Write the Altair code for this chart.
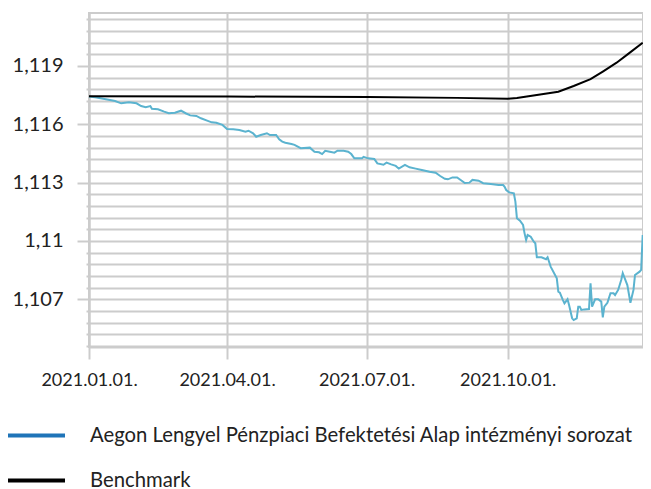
import altair as alt
import pandas as pd

# ---- data ----
START = "2021-01-01"
fund_name = "Aegon Lengyel Pénzpiaci Befektetési Alap intézményi sorozat"
bench_name = "Benchmark"

fund_day = [0,4,11,17,21,26,31,34,37,40,
            41,45,49,52,56,60,63,66,70,73,
            77,80,83,87,90,94,98,102,104,107,
            109,112,116,118,122,124,126,128,132,134,
            138,144,147,150,152,154,157,160,162,166,
            169,171,173,178,179,182,186,188,192,194,
            197,200,202,206,209,213,217,222,226,229,
            232,234,237,240,243,245,248,250,254,257,
            262,267,270,271,272,274,277,278,279,281,
            283,284,285,286,288,290,291,292,295,298,
            299,301,305,306,307,309,310,312,313,315,
            316,318,319,320,321,323,326,327,328,330,
            332,334,335,336,338,340,342,343,345,347,
            348,351,353,355,356,359,360,361]
fund_val = [1.11743,1.11739,1.11729,1.11720,1.11708,1.11713,1.11708,1.11694,1.11688,1.11694,
            1.11680,1.11677,1.11665,1.11657,1.11660,1.11670,1.11657,1.11646,1.11643,1.11631,
            1.11619,1.11610,1.11608,1.11597,1.11576,1.11574,1.11571,1.11562,1.11567,1.11554,
            1.11536,1.11545,1.11554,1.11545,1.11545,1.11523,1.11511,1.11505,1.11499,1.11494,
            1.11477,1.11480,1.11459,1.11456,1.11447,1.11464,1.11459,1.11454,1.11464,1.11464,
            1.11459,1.11447,1.11425,1.11425,1.11433,1.11425,1.11422,1.11399,1.11392,1.11403,
            1.11394,1.11386,1.11372,1.11391,1.11379,1.11372,1.11365,1.11356,1.11351,1.11334,
            1.11320,1.11317,1.11327,1.11327,1.11310,1.11298,1.11300,1.11314,1.11310,1.11297,
            1.11293,1.11288,1.11288,1.11279,1.11262,1.11250,1.11245,1.11202,1.11117,1.11104,
            1.11082,1.11039,1.11005,1.11031,1.11022,1.10996,1.10988,1.10916,1.10916,1.10906,
            1.10916,1.10868,1.10808,1.10739,1.10734,1.10696,1.10679,1.10700,1.10671,1.10602,
            1.10593,1.10602,1.10662,1.10662,1.10645,1.10648,1.10650,1.10782,1.10662,1.10700,
            1.10700,1.10688,1.10607,1.10662,1.10682,1.10731,1.10731,1.10722,1.10748,1.10799,
            1.10834,1.10773,1.10682,1.10748,1.10825,1.10842,1.10851,1.11031]

bench_day = [0, 91, 182, 240, 273, 279, 306, 316, 327, 335, 344, 352, 361]
bench_val = [1.11744, 1.11743, 1.11740, 1.11736, 1.11732, 1.11735, 1.11768,
             1.11797, 1.11832, 1.11871, 1.11917, 1.11965, 1.12020]

x_ticks = ["2021-01-01", "2021-04-01", "2021-07-01", "2021-10-01"]
y_domain = [1.104545, 1.121726]
y_grid = [round(1.1046 + 0.0006 * i, 4) for i in range(29)]

line_colors = {fund_name: "#5bb3cf", bench_name: "#000000"}
legend_colors = ["#1f74b8", "#000000"]

# ---- table ----
base_date = pd.Timestamp(START)
df = pd.concat([
    pd.DataFrame({"date": [base_date + pd.Timedelta(days=d) for d in fund_day],
                  "value": fund_val, "series": fund_name}),
    pd.DataFrame({"date": [base_date + pd.Timedelta(days=d) for d in bench_day],
                  "value": bench_val, "series": bench_name}),
], ignore_index=True)
df["date"] = df["date"].dt.strftime("%Y-%m-%dT00:00:00")

FONT = "Lato"
major_test = "abs(datum.value*1000 - round(datum.value*1000)) < 0.01"

x_enc = alt.X("date:T",
              scale=alt.Scale(domain=[alt.DateTime(year=2021, month=1, date=1),
                                      alt.DateTime(year=2021, month=12, date=28, hours=5)]),
              axis=alt.Axis(values=[alt.DateTime(year=int(s[:4]), month=int(s[5:7]), date=int(s[8:]))
                                    for s in x_ticks],
                            format="%Y.%m.%d.", title=None, grid=True,
                            gridColor="#cccccc", gridWidth=2,
                            domainColor="#cccccc", domainWidth=2,
                            tickColor="#cccccc", tickWidth=2, tickSize=12,
                            labelFont=FONT, labelFontSize=18, labelColor="#222222",
                            labelPadding=12, labelFlush=False))
y_enc = alt.Y("value:Q",
              scale=alt.Scale(domain=y_domain, zero=False, nice=False),
              axis=alt.Axis(values=y_grid, title=None, grid=True,
                            gridColor="#cccccc", gridWidth=2,
                            domainColor="#cccccc", domainWidth=2,
                            tickColor="#cccccc", tickWidth=2,
                            tickSize={"condition": {"test": major_test, "value": 12}, "value": 3},
                            labelExpr=f"{major_test} ? replace(format(datum.value, '.3~f'), '.', ',') : ''",
                            labelFont=FONT, labelFontSize=20, labelColor="#222222",
                            labelPadding=14))

legend_layer = alt.Chart(df).mark_line(opacity=0).encode(
    x=x_enc, y=y_enc,
    color=alt.Color("series:N",
                    scale=alt.Scale(domain=[fund_name, bench_name], range=legend_colors),
                    legend=alt.Legend(title=None, orient="none", legendX=-83, legendY=400,
                                      direction="vertical", symbolType="stroke",
                                      symbolSize=3249, symbolStrokeWidth=4, symbolOpacity=1,
                                      labelFont=FONT, labelFontSize=20.3, labelColor="#222222",
                                      labelOffset=23, clipHeight=45, rowPadding=0, padding=0,
                                      labelLimit=800)),
)

fund_layer = alt.Chart(df).transform_filter(
    alt.datum.series == fund_name
).mark_line(color=line_colors[fund_name], strokeWidth=2).encode(x=x_enc, y=y_enc)

bench_layer = alt.Chart(df).transform_filter(
    alt.datum.series == bench_name
).mark_line(color=line_colors[bench_name], strokeWidth=2).encode(x=x_enc, y=y_enc)

chart = alt.layer(legend_layer, fund_layer, bench_layer).properties(
    width=554, height=334,
    autosize=alt.AutoSizeParams(type="none"),
    padding={"left": 81, "top": 5, "right": 0, "bottom": 142},
    background="white",
).configure_view(stroke="#cccccc", strokeWidth=2)

chart.save("out.html", embed_options={"renderer": "svg", "actions": False})
